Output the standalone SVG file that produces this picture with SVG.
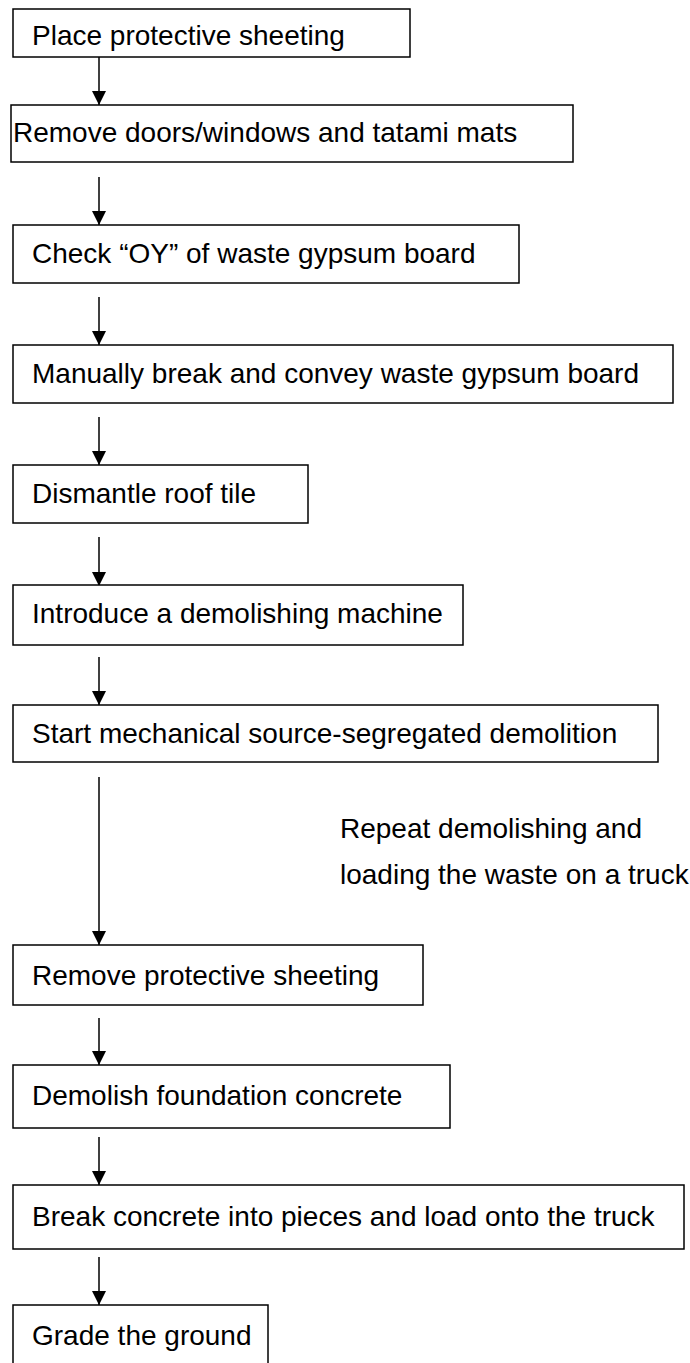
<svg xmlns="http://www.w3.org/2000/svg" width="690" height="1363" viewBox="0 0 690 1363">
<defs>
<marker id="ah" markerWidth="14" markerHeight="15" refX="14" refY="7" orient="auto" markerUnits="userSpaceOnUse">
<path d="M0,0 L14,7 L0,14 Z" fill="#000"/>
</marker>
<style>
.box{fill:#fff;stroke:#000;stroke-width:1.5}
.t{font-family:"Liberation Sans",Arial,sans-serif;font-size:28px;fill:#000}
.c{stroke:#000;stroke-width:1.5;fill:none}
</style>
</defs>
<rect width="690" height="1363" fill="#fff"/>
<g id="connectors">
<line class="c" x1="99" y1="57" x2="99" y2="105" marker-end="url(#ah)"/>
<line class="c" x1="99" y1="177" x2="99" y2="225" marker-end="url(#ah)"/>
<line class="c" x1="99" y1="297" x2="99" y2="345" marker-end="url(#ah)"/>
<line class="c" x1="99" y1="417" x2="99" y2="465" marker-end="url(#ah)"/>
<line class="c" x1="99" y1="537" x2="99" y2="586" marker-end="url(#ah)"/>
<line class="c" x1="99" y1="657" x2="99" y2="705" marker-end="url(#ah)"/>
<line class="c" x1="99" y1="777" x2="99" y2="945" marker-end="url(#ah)"/>
<line class="c" x1="99" y1="1018" x2="99" y2="1065" marker-end="url(#ah)"/>
<line class="c" x1="99" y1="1137" x2="99" y2="1185" marker-end="url(#ah)"/>
<line class="c" x1="99" y1="1257" x2="99" y2="1305" marker-end="url(#ah)"/>
</g>
<g id="n1"><rect class="box" x="13" y="9" width="397" height="48"/><text class="t" x="32" y="45">Place protective sheeting</text></g>
<g id="n2"><rect class="box" x="11" y="105" width="562" height="57"/><text class="t" x="13" y="142">Remove doors/windows and tatami mats</text></g>
<g id="n3"><rect class="box" x="13" y="225" width="506" height="58"/><text class="t" x="32" y="263">Check “OY” of waste gypsum board</text></g>
<g id="n4"><rect class="box" x="13" y="345" width="660" height="58"/><text class="t" x="32" y="383">Manually break and convey waste gypsum board</text></g>
<g id="n5"><rect class="box" x="13" y="465" width="295" height="58"/><text class="t" x="32" y="503">Dismantle roof tile</text></g>
<g id="n6"><rect class="box" x="13" y="585" width="450" height="60"/><text class="t" x="32" y="623">Introduce a demolishing machine</text></g>
<g id="n7"><rect class="box" x="13" y="705" width="645" height="57"/><text class="t" x="32" y="743">Start mechanical source-segregated demolition</text></g>
<g id="label"><text class="t" x="340" y="838">Repeat demolishing and</text><text class="t" x="340" y="884">loading the waste on a truck</text></g>
<g id="n8"><rect class="box" x="13" y="945" width="410" height="60"/><text class="t" x="32" y="985">Remove protective sheeting</text></g>
<g id="n9"><rect class="box" x="13" y="1065" width="437" height="63"/><text class="t" x="32" y="1105">Demolish foundation concrete</text></g>
<g id="n10"><rect class="box" x="13" y="1185" width="671" height="64"/><text class="t" x="32" y="1226">Break concrete into pieces and load onto the truck</text></g>
<g id="n11"><rect class="box" x="13" y="1305" width="255" height="70"/><text class="t" x="32" y="1345">Grade the ground</text></g>
</svg>
